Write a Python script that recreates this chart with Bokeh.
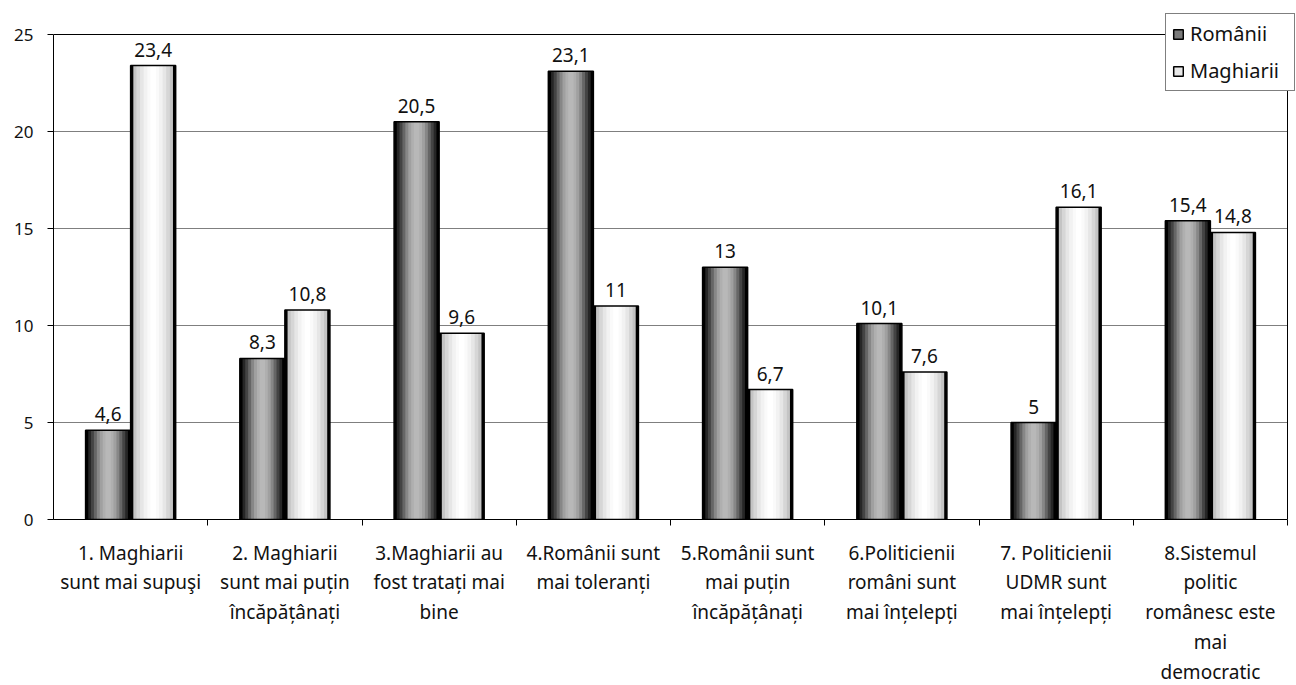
from bokeh.plotting import figure
from bokeh.models import (Range1d, FixedTicker, ColumnDataSource, Legend, LegendItem)
from bokeh.transform import dodge
from bokeh.core.properties import value
from bokeh.embed import file_html
from bokeh.resources import INLINE

categories = [
    "1. Maghiarii\nsunt mai supuşi",
    "2. Maghiarii\nsunt mai puțin\nîncăpățânați",
    "3.Maghiarii au\nfost tratați mai\nbine",
    "4.Românii sunt\nmai toleranți",
    "5.Românii sunt\nmai puțin\nîncăpățânați",
    "6.Politicienii\nromâni sunt\nmai înțelepți",
    "7. Politicienii\nUDMR sunt\nmai înțelepți",
    "8.Sistemul\npolitic\nromânesc este\nmai\ndemocratic",
]
romanii = [4.6, 8.3, 20.5, 23.1, 13, 10.1, 5, 15.4]
maghiarii = [23.4, 10.8, 9.6, 11, 6.7, 7.6, 16.1, 14.8]
series_names = ["Românii", "Maghiarii"]
y_ticks = [0, 5, 10, 15, 20, 25]

FONT = "Noto Sans"
N = len(categories)
YMAX = y_ticks[-1]

def fmt(v):
    return f"{v:g}".replace(".", ",")

pos = [i + 0.5 for i in range(N)]
src = ColumnDataSource(dict(
    pos=pos, rom=romanii, mag=maghiarii,
    rom_lbl=[fmt(v) for v in romanii], mag_lbl=[fmt(v) for v in maghiarii],
))

# frame is a bit taller / wider than the value area so the legend can overlap the border
p = figure(frame_width=1242, frame_height=506, output_backend="svg", toolbar_location=None,
           x_range=Range1d(0, N * 1242 / 1234), y_range=Range1d(0, YMAX * 506 / 485),
           min_border_left=53, min_border_right=0, min_border_top=13, min_border_bottom=10)
p.outline_line_color = None
p.background_fill_color = "white"
p.border_fill_color = "white"

# gridlines and plot-area border
p.segment(x0=[0] * 4, x1=[N] * 4, y0=y_ticks[1:-1], y1=y_ticks[1:-1],
          line_color="#7f7f7f", line_width=1, level="underlay")
p.segment(x0=[0, N], x1=[N, N], y0=[YMAX, 0], y1=[YMAX, YMAX],
          line_color="black", line_width=1)

BW = 0.292
off = BW / 2

dark_layers = [(1.0, "#000000"), (0.88, "#262626"), (0.76, "#444444"), (0.63, "#666666"),
               (0.5, "#878787"), (0.37, "#a0a0a0"), (0.24, "#afafaf"), (0.12, "#b8b8b8")]
light_layers = [(1.0, "#000000"), (0.88, "#c4c4c4"), (0.74, "#d6d6d6"), (0.58, "#e6e6e6"),
                (0.42, "#f2f2f2"), (0.26, "#fafafa"), (0.12, "#ffffff")]

def draw_bars(field, shift, layers):
    for frac, col in layers:
        p.vbar(x=dodge("pos", shift, range=p.x_range), top=field, bottom=0,
               width=BW * frac, source=src, fill_color=col, line_color=None)
    p.vbar(x=dodge("pos", shift, range=p.x_range), top=field, bottom=0,
           width=BW, source=src, fill_color=None, line_color="black", line_width=1.5)

draw_bars("rom", -off, dark_layers)
draw_bars("mag", off, light_layers)

for field, lbl, shift in (("rom", "rom_lbl", -off), ("mag", "mag_lbl", off)):
    p.text(x=dodge("pos", shift, range=p.x_range), y=field, text=lbl, source=src,
           text_font=value(FONT), text_font_size="19px", text_color="#111111",
           text_align="center", text_baseline="alphabetic", y_offset=-16)

# legend proxies
leg_dark = p.vbar(x=[-10], top=[0], width=0.1, fill_color="#7a7a7a", line_color="black", line_width=1.5)
leg_light = p.vbar(x=[-10], top=[0], width=0.1, fill_color="#e8e8e8", line_color="black", line_width=1.5)

legend = Legend(items=[LegendItem(label=series_names[0], renderers=[leg_dark]),
                       LegendItem(label=series_names[1], renderers=[leg_light])],
                location="top_right", margin=0, padding=6, spacing=10,
                glyph_width=12, glyph_height=12, label_standoff=6,
                label_width=98, label_height=24,
                label_text_font=FONT, label_text_font_size="20px", label_text_color="#111111",
                border_line_color="black", border_line_width=1,
                background_fill_color="white", background_fill_alpha=1.0)
p.add_layout(legend, "center")

# axes
p.yaxis.ticker = FixedTicker(ticks=y_ticks)
p.yaxis.bounds = (0, YMAX)
p.yaxis.axis_line_color = "black"
p.yaxis.major_tick_line_color = "black"
p.yaxis.major_tick_in = 0
p.yaxis.major_tick_out = 6
p.yaxis.minor_tick_line_color = None
p.yaxis.major_label_text_font = FONT
p.yaxis.major_label_text_font_size = "17px"
p.yaxis.major_label_text_color = "#111111"
p.yaxis.major_label_standoff = 14

p.xaxis.ticker = FixedTicker(ticks=pos, minor_ticks=list(range(1, N)) + [N])
p.xaxis.bounds = (0, N)
p.xaxis.major_label_overrides = {v: c for v, c in zip(pos, categories)}
p.xaxis.axis_line_color = "black"
p.xaxis.major_tick_line_color = None
p.xaxis.major_tick_in = 0
p.xaxis.major_tick_out = 0
p.xaxis.minor_tick_line_color = "black"
p.xaxis.minor_tick_in = 0
p.xaxis.minor_tick_out = 6
p.xaxis.major_label_text_font = FONT
p.xaxis.major_label_text_font_size = "19px"
p.xaxis.major_label_text_color = "#111111"
p.xaxis.major_label_text_line_height = 1.15
p.xaxis.major_label_standoff = 14
p.xaxis.major_label_orientation = "horizontal"

p.xgrid.grid_line_color = None
p.ygrid.grid_line_color = None

open("out.html", "w").write(file_html(p, INLINE))
